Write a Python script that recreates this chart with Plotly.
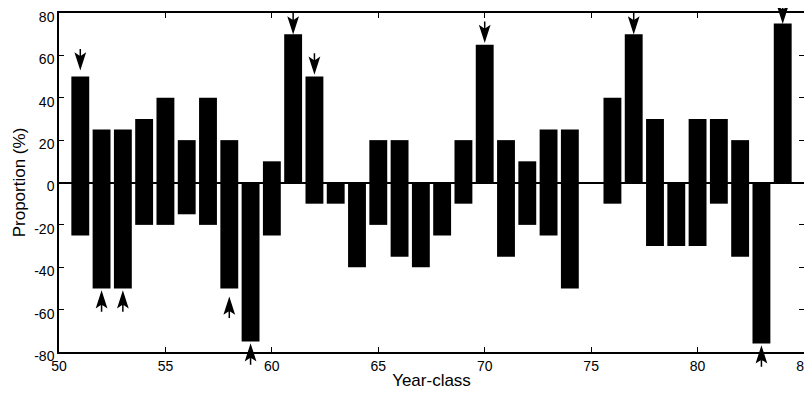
import plotly.graph_objects as go

years = list(range(51, 85))
positive = [50, 25, 25, 30, 40, 20, 40, 20, 0, 10, 70, 50, 0, 0, 20, 20, 0, 0, 20, 65,
            20, 10, 25, 25, 0, 40, 70, 30, 0, 30, 30, 20, 0, 75]
negative = [-25, -50, -50, -20, -20, -15, -20, -50, -75, -25, 0, -10, -10, -40, -20, -35, -40, -25, -10, 0,
            -35, -20, -25, -50, 0, -10, 0, -30, -30, -30, -10, -35, -76, 0]

down_arrow_years = [51, 61, 62, 70, 77, 84]
down_arrow_tips = [54, 71, 52, 67, 71, 76]
up_arrow_years = [52, 53, 58, 59, 83]
up_arrow_tips = [-52, -52, -55, -77, -78]

x_ticks = [50, 55, 60, 65, 70, 75, 80, 85]
y_ticks = [-80, -60, -40, -20, 0, 20, 40, 60, 80]
x_range = [50, 85]
y_range = [-80, 80]

fig = go.Figure()
fig.add_trace(go.Bar(x=years, y=positive, width=0.84, marker=dict(color="black", line=dict(width=0)),
                     showlegend=False))
fig.add_trace(go.Bar(x=years, y=negative, width=0.84, marker=dict(color="black", line=dict(width=0)),
                     showlegend=False))

DOWN_PATH = "M0,0 L-4.5,14 L0,11 L4.5,14 Z M0,11 L0,19"
UP_PATH = "M0,0 L-4.5,-14 L0,-11 L4.5,-14 Z M0,-11 L0,-19"


def to_paper_y(v):
    return (v - y_range[0]) / (y_range[1] - y_range[0])


shapes = []
for xv, yv in zip(down_arrow_years, down_arrow_tips):
    shapes.append(dict(type="path", xref="x", yref="paper", xsizemode="pixel", ysizemode="pixel",
                       xanchor=xv, yanchor=to_paper_y(yv), path=DOWN_PATH, fillcolor="black",
                       line=dict(color="black", width=1.5), layer="above"))
for xv, yv in zip(up_arrow_years, up_arrow_tips):
    shapes.append(dict(type="path", xref="x", yref="paper", xsizemode="pixel", ysizemode="pixel",
                       xanchor=xv, yanchor=to_paper_y(yv), path=UP_PATH, fillcolor="black",
                       line=dict(color="black", width=1.5), layer="above"))

fig.update_layout(
    width=804, height=385,
    margin=dict(l=51, r=8, t=5, b=41),
    paper_bgcolor="white", plot_bgcolor="white",
    barmode="overlay",
    font=dict(family="Liberation Sans, Arial, sans-serif", color="black", size=14),
    shapes=shapes,
    xaxis=dict(range=x_range, tickvals=x_ticks, ticktext=[str(v) for v in x_ticks],
               ticks="inside", ticklen=5, tickwidth=1.2, tickcolor="black",
               showline=True, linecolor="black", linewidth=1.5, mirror="ticks",
               showgrid=False, zeroline=False, automargin=False, ticklabeloverflow="allow",
               title=dict(text="Year-class", font=dict(size=17), standoff=2)),
    yaxis=dict(range=y_range, tickvals=y_ticks, ticktext=[str(v) for v in y_ticks],
               ticks="inside", ticklen=5, tickwidth=1.2, tickcolor="black",
               showline=True, linecolor="black", linewidth=1.5, mirror="ticks",
               showgrid=False, zeroline=True, zerolinecolor="black", zerolinewidth=1.5,
               automargin=False, ticklabeloverflow="allow", ticklabelshift=4,
               title=dict(text="Proportion (%)", font=dict(size=17), standoff=4)),
)

fig.write_html("out.html")
